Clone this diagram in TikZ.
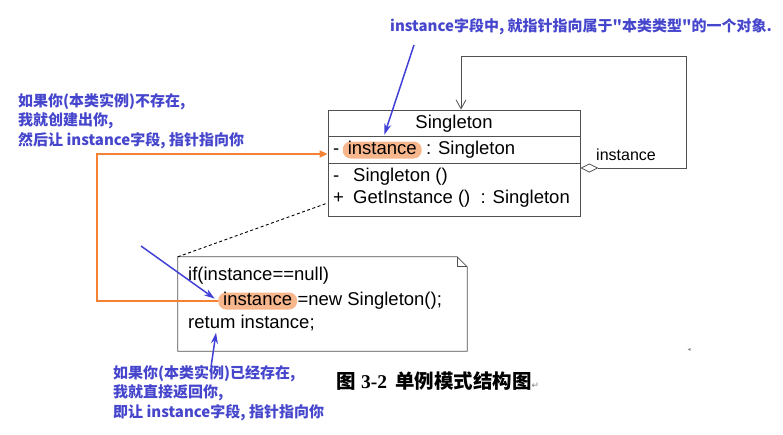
\documentclass[tikz,border=0pt]{standalone}
\usepackage{fontspec}
\setmainfont{Liberation Sans}
\newfontfamily\cjkfont{Noto Sans CJK SC}
\newfontfamily\serifbold{Liberation Serif}
\newfontfamily\symfont{DejaVu Sans}
\usepackage{tikz}
\usetikzlibrary{arrows.meta, positioning}

\definecolor{noteblue}{RGB}{70,70,205}
\definecolor{arrowblue}{RGB}{64,64,215}
\definecolor{lineorange}{RGB}{245,130,50}
\definecolor{hiorange}{RGB}{248,182,140}
\definecolor{boxgray}{RGB}{80,80,80}

\begin{document}
\begin{tikzpicture}[x=1pt, y=-1pt,
  umltext/.style={font=\fontsize{18.5}{22}\selectfont, inner sep=0pt, text height=13pt, text depth=4pt},
  hilite/.style={fill=hiorange, rounded corners=8pt, inner xsep=5pt, inner ysep=0pt},
  remark/.style={font=\cjkfont\bfseries\fontsize{15}{19.7}\selectfont, text=noteblue, align=left, inner sep=0pt},
  pointer/.style={-{Stealth[length=11pt, width=7pt]}, arrowblue, line width=1.5pt},
  outline/.style={draw=boxgray, line width=0.8pt}]
  \useasboundingbox (0,0) rectangle (783,434);

  % --- Classe Singleton ---
  \node[outline, inner sep=0pt, minimum width=252pt, minimum height=106pt] (cls) at (454,163) {};
  \draw[outline] ([yshift=-27pt]cls.north west) -- ([yshift=-27pt]cls.north east);
  \draw[outline] ([yshift=-54pt]cls.north west) -- ([yshift=-54pt]cls.north east);
  \node[umltext] (title) at (454,124) {Singleton};
  \node[umltext, anchor=west] (vis1) at (333,150) {-};
  \node[umltext, hilite, right=3pt of vis1] (attr) {instance};
  \node[umltext, right=4pt of attr] (attrtype) {: Singleton};
  \node[umltext, anchor=west] (vis2) at (333,177) {-};
  \node[umltext, anchor=west] (op1) at (353,177) {Singleton ()};
  \node[umltext, anchor=west] (vis3) at (333,199) {+};
  \node[umltext, anchor=west] (op2) at (353,199) {GetInstance () \ : Singleton};

  % --- Auto-association ---
  \coordinate (loopA) at (686,168);
  \coordinate (loopB) at (461,56);
  \draw[outline, {Diamond[open, length=18pt, width=9pt]}-{Straight Barb[length=9pt, width=10pt]}]
    (cls.east |- loopA) -- (loopA) |- (loopB) -- (loopB |- cls.north);
  \node[font=\fontsize{16}{18}\selectfont, inner sep=0pt, anchor=west] (role) at (596,155) {instance};

  % --- Note ---
  \node[inner sep=0pt, minimum width=289pt, minimum height=94pt] (note) at (322.5,304) {};
  \draw[outline] (note.north west) -- ([xshift=-10pt]note.north east) -- ([yshift=-10pt]note.north east)
    -- (note.south east) -- (note.south west) -- cycle;
  \draw[outline] ([xshift=-10pt]note.north east) -- ([xshift=-10pt, yshift=-10pt]note.north east)
    -- ([yshift=-10pt]note.north east);
  \draw[line width=0.9pt, dash pattern=on 3pt off 2.5pt] (note.north west) -- ([yshift=-40pt]cls.west);
  \node[umltext, anchor=west] (code1) at (188,276) {if(instance==null)};
  \node[umltext, hilite, anchor=west] (code2a) at (218,301) {instance};
  \node[umltext, right=0pt of code2a] (code2b) {=new Singleton();};
  \node[umltext, anchor=west] (code3) at (188,324) {retum instance;};

  % --- Fleche orange ---
  \coordinate (bend) at (97,154);
  \draw[lineorange, line width=1.5pt, -{Triangle[length=8pt, width=7pt]}]
    (code2a.west) -| (bend) -- (cls.west |- bend);

  % --- Remarques ---
  \node[remark, anchor=west] (topnote) at (390,27) {instance字段中, 就指针指向属于"本类类型"的一个对象.};
  \node[remark, anchor=north west] (remark1) at (18,93) {如果你(本类实例)不存在,\\我就创建出你,\\然后让 instance字段, 指针指向你};
  \node[remark, anchor=north west] (remark2) at (113,365) {如果你(本类实例)已经存在,\\我就直接返回你,\\即让 instance字段, 指针指向你};
  \coordinate (p1) at (414,45);
  \coordinate (p2) at (141,246);
  \draw[pointer, shorten >=7pt] (p1) -- (attr.north);
  \draw[pointer, shorten >=4pt] (p2) -- (code2a.west);
  \draw[pointer] ([xshift=98pt, yshift=-2pt]remark2.north west) -- ([xshift=28pt]code3.south west);

  % --- Legende ---
  \node[anchor=west, inner sep=0pt, font=\fontsize{19.5}{21}\selectfont] (caption) at (336,381)
    {{\cjkfont\bfseries 图} {\serifbold\bfseries 3-2}\hspace{8pt}{\cjkfont\bfseries 单例模式结构图}{\symfont\fontsize{9}{9}\selectfont\color{gray}↵}};
  \node[inner sep=0pt, font=\symfont\fontsize{6}{6}\selectfont, text=gray] (pagemark) at (689,350) {◂};
\end{tikzpicture}
\end{document}
